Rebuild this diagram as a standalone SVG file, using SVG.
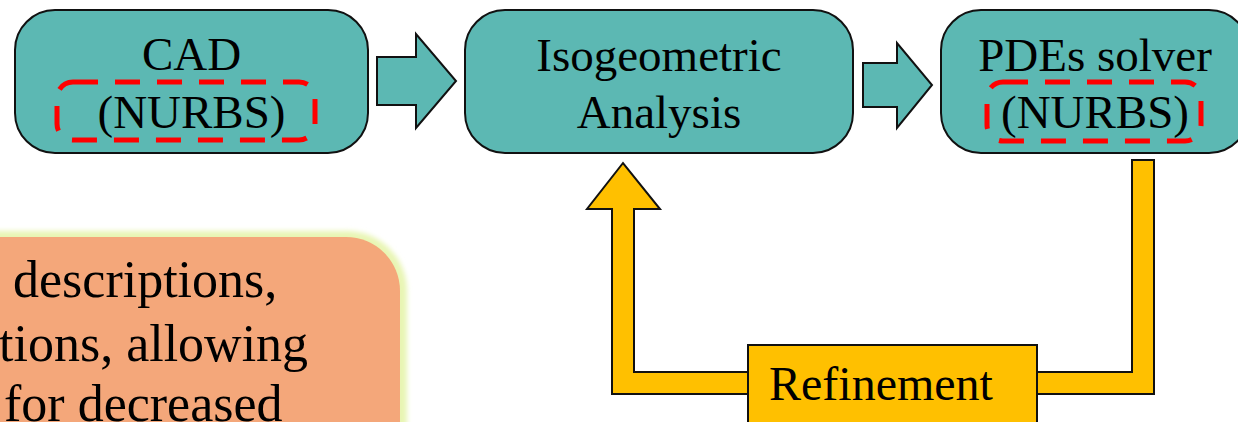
<svg xmlns="http://www.w3.org/2000/svg" width="1238" height="422" viewBox="0 0 1238 422">
  <defs>
    <style>
      .node { fill: #5cb8b3; stroke: #111; stroke-width: 2; }
      .flow { fill: #5cb8b3; stroke: #111; stroke-width: 2; stroke-linejoin: miter; }
      .loop { fill: #ffc000; stroke: #111; stroke-width: 2; stroke-linejoin: miter; }
      .mark { fill: none; stroke: #ff0000; stroke-width: 5; stroke-dasharray: 25 17; }
      .lbl { font-family: "Liberation Serif", "Times New Roman", serif; font-size: 47px; fill: #000; text-anchor: middle; }
      .note { font-family: "Liberation Serif", "Times New Roman", serif; font-size: 52px; fill: #000; }
    </style>
    <filter id="glow" x="-20%" y="-20%" width="140%" height="140%">
      <feGaussianBlur stdDeviation="2.5"/>
    </filter>
  </defs>
  <rect width="1238" height="422" fill="#fff"/>

  <!-- annotation box, cut by the left and bottom edges -->
  <g id="note">
    <rect x="-80" y="231" width="487" height="260" rx="60" fill="#e8f5b4" filter="url(#glow)"/>
    <rect x="-80" y="237" width="480" height="250" rx="54" fill="#f4a77a"/>
    <text class="note" x="13" y="297">descriptions,</text>
    <text class="note" x="-1" y="361">tions, allowing</text>
    <text class="note" x="4" y="421">for decreased</text>
  </g>

  <!-- connectors -->
  <g id="connectors">
    <polygon class="flow" points="377,57 416,57 416,34 456,81 416,128 416,105 377,105"/>
    <polygon class="flow" points="863,63 897,63 897,43 932,85 897,128 897,107 863,107"/>
    <polygon class="loop" points="1132,160 1154,160 1154,394 612,394 612,209 587,209 623,163 660,209 634,209 634,372 1132,372"/>
  </g>

  <g id="cad">
    <rect class="node" x="15" y="10" width="353" height="143" rx="40"/>
    <rect class="mark" x="57" y="82" width="258" height="58" rx="16"/>
    <text class="lbl" x="191.5" y="70">CAD</text>
    <text class="lbl" x="191.5" y="128">(NURBS)</text>
  </g>

  <g id="iga">
    <rect class="node" x="465" y="10" width="388" height="143" rx="40"/>
    <text class="lbl" x="659" y="71">Isogeometric</text>
    <text class="lbl" x="659" y="128">Analysis</text>
  </g>

  <g id="solver">
    <rect class="node" x="941" y="10" width="308" height="143" rx="40"/>
    <rect class="mark" x="987" y="82" width="214" height="59" rx="16"/>
    <text class="lbl" x="1095" y="71">PDEs solver</text>
    <text class="lbl" x="1095" y="128">(NURBS)</text>
  </g>

  <g id="refinement">
    <rect class="loop" x="748" y="345" width="289" height="90"/>
    <text class="lbl" x="769" y="400" style="text-anchor:start;font-size:48px">Refinement</text>
  </g>
</svg>
